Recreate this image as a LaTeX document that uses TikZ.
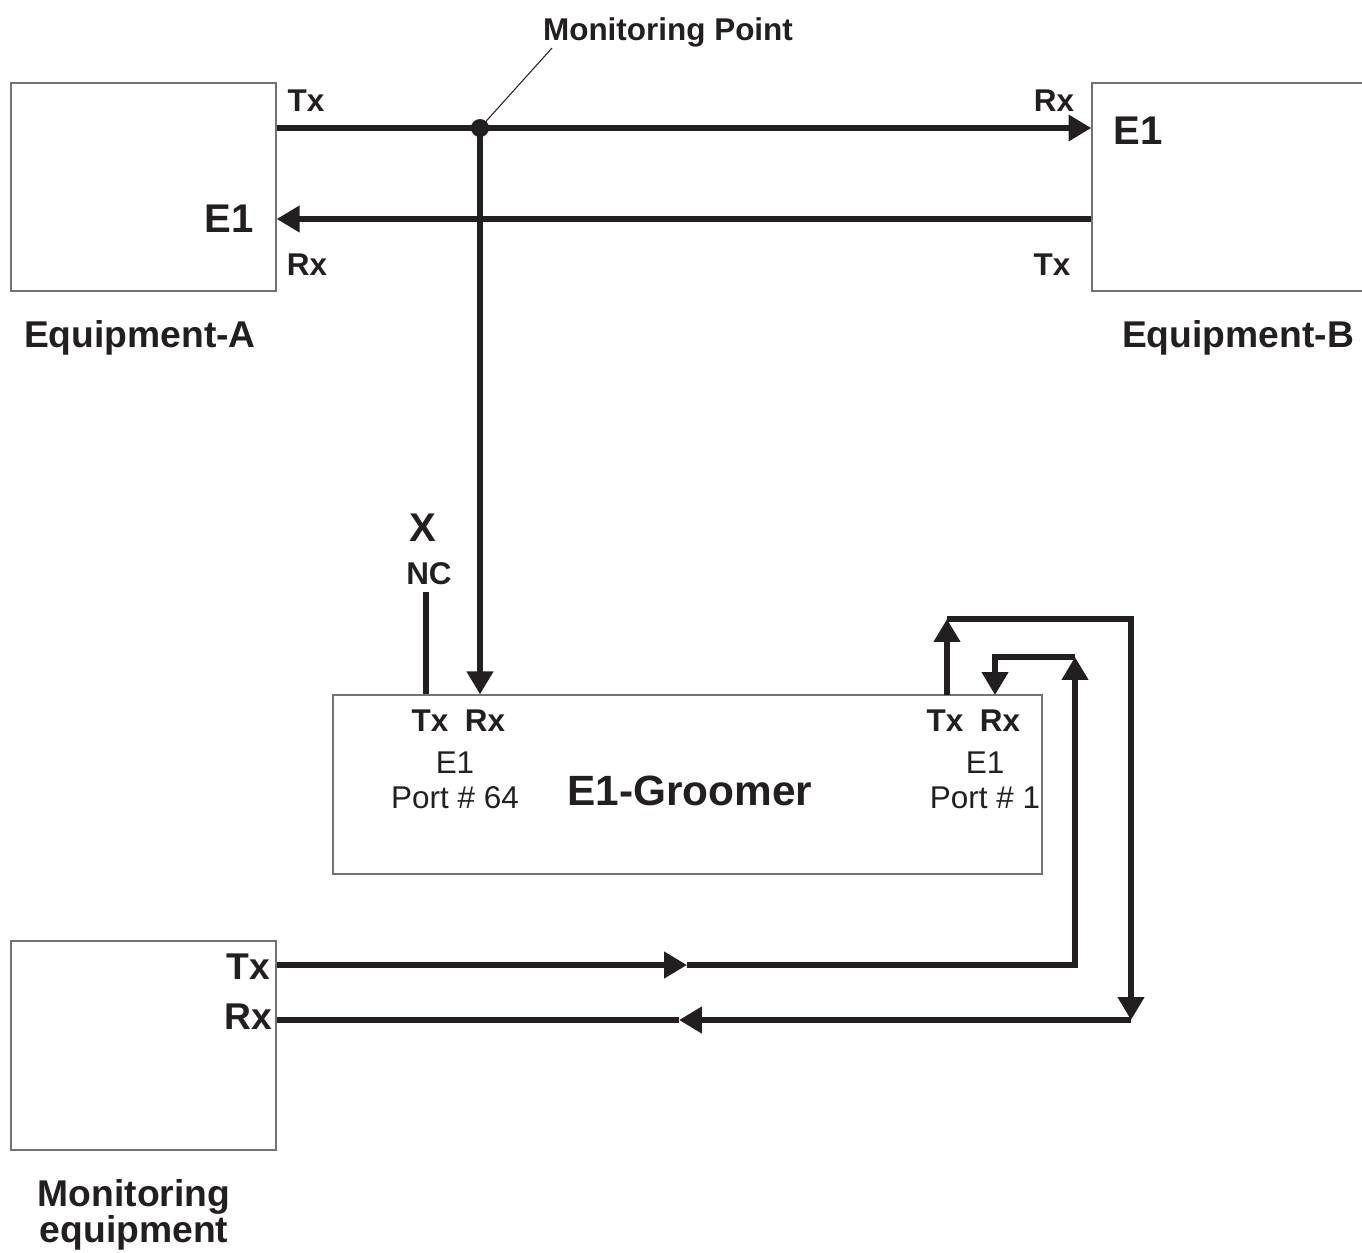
\documentclass[tikz,border=0pt]{standalone}
\usepackage{fontspec}
\setmainfont{Liberation Sans}
\usetikzlibrary{arrows.meta, positioning}

\definecolor{ink}{HTML}{231F20}

\begin{document}
\begin{tikzpicture}[x=0.02cm, y=-0.02cm,
  box/.style={draw=black!55, line width=0.8pt, rectangle, inner sep=0pt},
  link/.style={draw=ink, line width=3.1pt},
  tip/.style={-{Triangle[length=13pt, width=14.5pt]}},
  small/.style={font=\fontsize{17.9}{20}\selectfont\bfseries, text=ink, inner sep=0pt, anchor=base},
  big/.style={font=\fontsize{21.2}{24}\selectfont\bfseries, text=ink, inner sep=0pt, anchor=base},
  huge/.style={font=\fontsize{22.8}{26}\selectfont\bfseries, text=ink, inner sep=0pt, anchor=base},
  plain/.style={font=\fontsize{17.9}{20}\selectfont, text=ink, inner sep=0pt, anchor=base}]

  \useasboundingbox (0,0) rectangle (1362,1252);
  \clip (0,0) rectangle (1362,1252);

  % equipment boxes
  \node (eqa) [box, minimum width=5.3cm, minimum height=4.16cm] at (143.5,187) {};
  \node (eqb) [box, minimum width=6cm, minimum height=4.16cm] at (1242,187) {};
  \node (groomer) [box, minimum width=14.18cm, minimum height=3.58cm] at (687.5,784.5) {};
  \node (moneq) [box, minimum width=5.3cm, minimum height=4.18cm] at (143.5,1045.5) {};

  % labels
  \node (mplabel) [small] at (668,40) {Monitoring Point};
  \node (atx) [small] at (306,111) {Tx};
  \node (arx) [small] at (307,275) {Rx};
  \node (ae1) [huge] at (229,232) {E1};
  \node (brx) [small] at (1054,111) {Rx};
  \node (btx) [small] at (1052,275) {Tx};
  \node (be1) [huge] at (1138,144) {E1};
  \node (eqaname) [big] at (140,347) {Equipment-A};
  \node (eqbname) [big] at (1238,347) {Equipment-B};

  \node (nox) [huge] at (423,541) {X};
  \node (nc) [small] at (429,584) {NC};

  \node (g64tx) [small] at (430,731) {Tx};
  \node (g64rx) [small] at (485,731) {Rx};
  \node (g64e1) [plain] at (455,773) {E1};
  \node (g64port) [plain] at (455,808) {Port \# 64};
  \node (gname) [font=\fontsize{24.1}{28}\selectfont\bfseries, text=ink, inner sep=0pt, anchor=base] at (690,805) {E1-Groomer};
  \node (g1tx) [small] at (945,731) {Tx};
  \node (g1rx) [small] at (1000,731) {Rx};
  \node (g1e1) [plain] at (985,773) {E1};
  \node (g1port) [plain] at (985,808) {Port \# 1};

  \node (mtx) [big] at (248,979) {Tx};
  \node (mrx) [big] at (248,1029) {Rx};
  \node (monname) [big, anchor=north, align=center, font=\fontsize{21.2}{20.5}\selectfont\bfseries] at (134,1179) {Monitoring\\equipment};

  % connection points
  \coordinate (mp) at (480,128);
  \coordinate (mptag) at (552,48);
  \coordinate (ncend) at (426,592);
  \coordinate (p1tx) at (947,695);
  \coordinate (p1rx) at (995,695);
  \coordinate (txup) at (947,619);
  \coordinate (txdown) at (1131,1020);
  \coordinate (rxup) at (1075,657);
  \coordinate (txmid) at (687,965);
  \coordinate (rxmid) at (679,1020);

  % E1 link between equipment A and B
  \draw [link, tip] (eqa.east |- mp) -- (eqb.west |- mp);
  \draw [link, tip] ([yshift=-0.64cm]eqb.west) -- ([yshift=-0.64cm]eqa.east);
  \fill [ink] (mp) circle (0.18cm);
  \draw [ink, line width=0.6pt] (mp) -- (mptag);

  % tap into port 64
  \draw [link, tip] (mp) -- (mp |- groomer.north);
  \draw [link] (ncend) -- (ncend |- groomer.north);

  % port 1 loop to monitoring equipment
  \draw [link, tip] (p1tx) -- (txup);
  \draw [link, tip] (txup) -| (txdown);
  \draw [link, tip] (txdown) -- (rxmid);
  \draw [link] (rxmid) -- (moneq.east |- rxmid);
  \draw [link, tip] (moneq.east |- txmid) -- (txmid);
  \draw [link, tip] (txmid) -| (rxup);
  \draw [link, tip] (rxup) -| (p1rx);
\end{tikzpicture}
\end{document}
